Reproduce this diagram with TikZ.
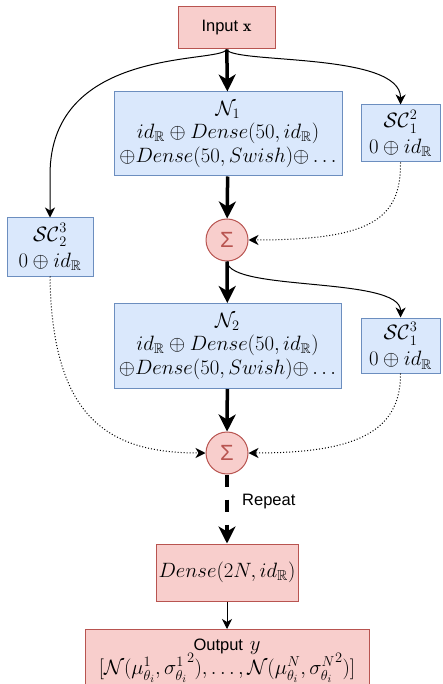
\documentclass[tikz,border=0pt]{standalone}
\usepackage{amssymb}
\usepackage{amsmath}
\usepackage{fontspec}
\newfontfamily\arialfont{Liberation Sans}
\usepackage{tikz}
\usetikzlibrary{arrows.meta}

\definecolor{redfill}{HTML}{F8CECC}
\definecolor{reddraw}{HTML}{B85450}
\definecolor{bluefill}{HTML}{DAE8FC}
\definecolor{bluedraw}{HTML}{6C8EBF}

\begin{document}
\begin{tikzpicture}[x=1pt,y=1pt,yscale=-1,
  redbox/.style={draw=reddraw,fill=redfill,line width=1pt,inner sep=0pt,align=center},
  bluebox/.style={draw=bluedraw,fill=bluefill,line width=1pt,inner sep=0pt,align=center,font=\fontsize{20}{23}\selectfont},
  sumnode/.style={circle,draw=reddraw,fill=redfill,line width=1pt,minimum size=42pt,inner sep=0pt,text=reddraw,font=\arialfont\fontsize{22}{22}\selectfont},
  thick arrow/.style={line width=3.5pt,-{Stealth[length=17pt,width=17pt,inset=5pt]}},
  thin arrow/.style={line width=1pt,-{Stealth[length=10pt,width=10pt,inset=3pt]}},
  skip arrow/.style={line width=1pt,dotted,-{Stealth[length=10pt,width=10pt,inset=3pt]}}]
\useasboundingbox (0,0) rectangle (442,684);

% Text Node
\node [redbox,minimum width=97pt,minimum height=42pt,font=\arialfont\fontsize{16.5}{19}\selectfont] (inp) at (226.5,28) {Input $\mathbf{x}$};
% Text Node
\node [bluebox,minimum width=228pt,minimum height=84pt] (n1) at (228,134) {$\mathcal{N}_1$\\$id_{\mathbb{R}}\oplus Dense(50,id_{\mathbb{R}})$\\[1pt]${\oplus}Dense(50,Swish){\oplus}\ldots$};
% Text Node
\node [bluebox,minimum width=79pt,minimum height=57pt] (sc12) at (400.5,133.5) {$\mathcal{SC}_1^2$\\[3pt]$0\oplus id_{\mathbb{R}}$};
% Text Node
\node [bluebox,minimum width=86pt,minimum height=58pt] (sc23) at (50,247) {$\mathcal{SC}_2^3$\\[3pt]$0\oplus id_{\mathbb{R}}$};
% Text Node
\node [sumnode] (sum1) at (227,240) {Σ};
% Text Node
\node [bluebox,minimum width=227pt,minimum height=85pt] (n2) at (227.5,346) {$\mathcal{N}_2$\\$id_{\mathbb{R}}\oplus Dense(50,id_{\mathbb{R}})$\\[1pt]${\oplus}Dense(50,Swish){\oplus}\ldots$};
% Text Node
\node [bluebox,minimum width=79pt,minimum height=55pt] (sc13) at (400.5,345.5) {$\mathcal{SC}_1^3$\\[3pt]$0\oplus id_{\mathbb{R}}$};
% Text Node
\node [sumnode] (sum2) at (227,453) {Σ};
% Text Node
\node [redbox,minimum width=142pt,minimum height=57pt,font=\fontsize{20.5}{23}\selectfont] (dense) at (227,572.5) {$Dense(2N,id_{\mathbb{R}})$};
% Text Node
\node [redbox,minimum width=284pt,minimum height=62pt,anchor=north,font=\fontsize{22.5}{24}\selectfont] (out) at (227,629) {{\arialfont\fontsize{16.5}{19}\selectfont Output} $y$\\[-2pt]$[\mathcal{N}(\mu^{1}_{\theta_i},{\sigma^{1}_{\theta_i}}^{2}),\ldots,\mathcal{N}(\mu^{N}_{\theta_i},{\sigma^{N}_{\theta_i}}^{2})]$};
% Text Node
\node [anchor=west,inner sep=0pt,font=\arialfont\fontsize{16.5}{19}\selectfont] (rep) at (242,502) {Repeat};

% Connection
\draw [thick arrow] (inp) -- (n1);
% Connection
\draw [thin arrow] (inp.south) .. controls (220,64) and (50,45) .. (50,175) -- (sc23.north);
% Connection
\draw [thin arrow] (inp.south) .. controls (234,64) and (401,52) .. (sc12.north);
% Connection
\draw [thick arrow] (n1) -- (sum1);
% Connection
\draw [skip arrow] (sc12.south) .. controls (401,220) and (370,240) .. (sum1.east);
% Connection
\draw [thick arrow] (sum1) -- (n2);
% Connection
\draw [thin arrow] (sum1.south) .. controls (229,292) and (401,276) .. (sc13.north);
% Connection
\draw [thick arrow] (n2) -- (sum2);
% Connection
\draw [skip arrow] (sc23.south) .. controls (52,420) and (110,453) .. (sum2.west);
% Connection
\draw [skip arrow] (sc13.south) .. controls (401,435) and (350,453) .. (sum2.east);
% Connection
\draw [line width=3.5pt,dash pattern=on 12pt off 13pt,-{Stealth[length=17pt,width=17pt,inset=5pt]}] (sum2) -- (dense);
% Connection
\draw [thin arrow] (dense) -- (out);

\end{tikzpicture}
\end{document}
